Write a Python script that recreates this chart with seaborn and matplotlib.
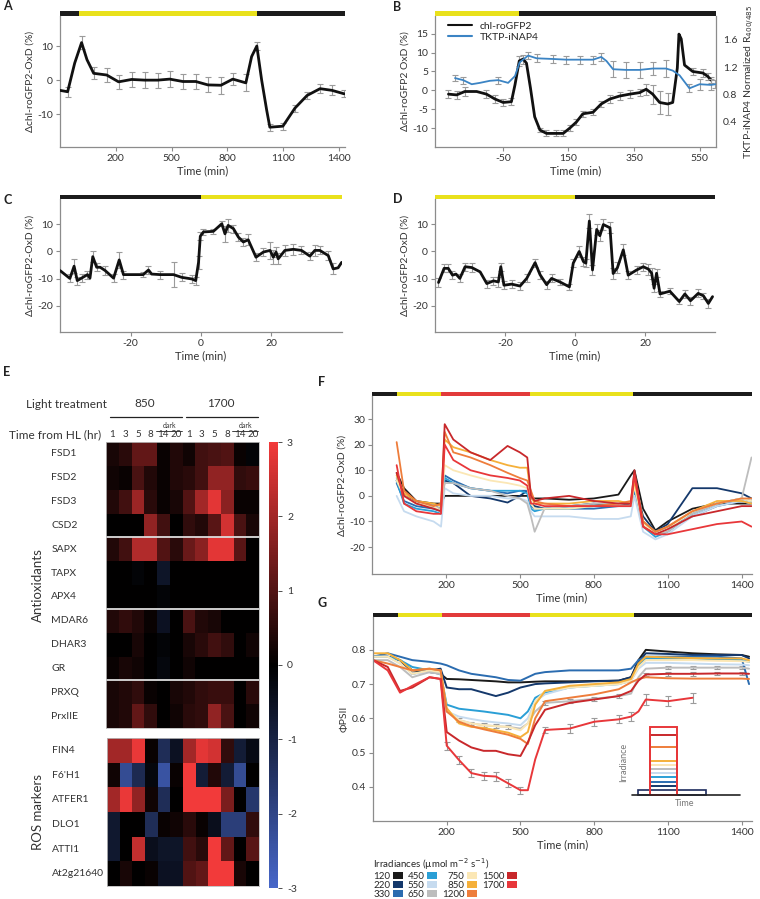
import numpy as np
import pandas as pd
import matplotlib.pyplot as plt
import matplotlib.transforms as mtransforms
from matplotlib.patches import Rectangle, Patch
from matplotlib.colors import LinearSegmentedColormap
import seaborn as sns

# ---------------- data ----------------
# A: 16 h light period (time from light on, min)
a_t = [-100, -59, -21, 16, 45, 81, 151, 215, 285, 355, 425, 490, 560, 630, 695, 765, 829, 899, 930, 958,
       984, 1011, 1028, 1098, 1163, 1228, 1298, 1362, 1427]
a_v = [-3, -3.4, 5, 11, 6, 2, 1.5, -0.5, 0.2, 0, 0, 0.3, -0.4, -0.4, -1.4, -1.5, 0.3, -0.8, 6.9, 10,
       0, -8.8, -13.8, -13.5, -8.2, -4.5, -2.5, -3, -4]
a_e = [0, 1.5, 0, 1.8, 0, 1.8, 2, 2, 2.3, 2.3, 2.2, 2.3, 2.2, 2.2, 2.2, 2.5, 1.8, 2.5, 0, 1.2,
       0, 0, 1, 1, 1, 1, 1.3, 1.5, 1]

# B: chl-roGFP2 (left axis) and TKTP-iNAP4 (right axis)
b_t = [-216, -191, -166, -130, -100, -74, -49, -24, -13, 0, 12, 22, 34, 47, 63, 83, 113, 134, 154, 174,
       194, 225, 250, 276, 306, 337, 367, 387, 407, 428, 453, 468, 482, 487, 494, 504, 529, 560, 575, 585]
b_v = [-1, -1.2, -0.3, -0.3, -1, -2.3, -3.2, -3, 1.5, 7.8, 8.3, 7.2, 0.7, -7, -10.5, -11.4, -11.4, -11.4, -10, -8.4,
       -6.2, -5.8, -3.6, -2.3, -1.5, -1, -0.6, 0.3, -1, -3.2, -3.6, -3.2, 5.9, 14.9, 13.6, 6.7, 5, 4.6, 3.7, 2.7]
b_e = [1, 1, 1.2, 0, 1, 1, 1, 1, 0, 1.3, 1.2, 0, 0, 0, 0.6, 0.8, 0.8, 0.8, 0.8, 0.8,
       0.8, 0.8, 0.8, 1, 1, 1, 1, 1.5, 2.5, 3, 3, 0, 0, 0, 0, 0, 1, 1, 1, 0.8]
inap_t = [-196, -171, -145, -120, -90, -64, -34, -13, 1, 27, 53, 103, 144, 184, 225, 250, 266, 286, 326,
          367, 407, 448, 468, 489, 519, 550, 585, 598]
inap_v = [1.04, 1.01, 0.95, 0.97, 1.0, 1.01, 0.97, 1.07, 1.27, 1.37, 1.33, 1.32, 1.31, 1.31, 1.31, 1.35, 1.29,
          1.17, 1.16, 1.16, 1.18, 1.18, 1.15, 1.08, 0.89, 0.95, 0.94, 0.95]
inap_e = [0.05, 0.05, 0, 0, 0, 0.05, 0, 0, 0, 0.05, 0.06, 0.06, 0.06, 0.06, 0.06, 0.06, 0, 0.12, 0.12,
          0.12, 0.1, 0.12, 0, 0, 0.06, 0.08, 0.08, 0.06]

# C: dark -> light transition
c_t = [-40.0, -37.2, -36.0, -35.1, -33.9, -32.2, -31.5, -30.7, -29.6, -28.6, -27.2, -24.8, -23.2, -22.0, -19.2,
       -16.4, -14.9, -14.0, -11.6, -7.8, -5.5, -2.6, -1.5, -0.7, -0.2, 0.7, 3.5, 5.9, 6.8, 7.7, 9.2, 10.6, 12.0,
       13.4, 15.6, 17.7, 19.6, 20.5, 21.3, 21.9, 23.8, 26.2, 28.5, 30.9, 32.3, 33.7, 36.1, 37.5, 38.9, 39.9]
c_v = [-7.0, -9.9, -5.4, -10.7, -9.8, -8.5, -9.8, -1.9, -5.8, -5.8, -7.0, -9.8, -3.1, -8.5, -8.5, -8.5, -6.8,
       -8.3, -8.5, -8.5, -9.5, -10.1, -10.7, -4.0, 5.6, 7.2, 7.4, 10.2, 6.5, 9.6, 8.4, 5.3, 3.5, 4.3, -2.1, -0.2,
       0.4, -2.1, -0.2, -2.7, 0.4, 0.8, 0.4, -1.7, 0.4, 0.4, -1.5, -6.4, -6.0, -4.0]
c_e = [0, 1.5, 2.5, 1.5, 1.5, 1.5, 0, 2, 1.5, 0, 1.5, 1.5, 3, 1.5, 0, 1, 1.5, 0, 1.5, 4.5,
       1.5, 1.5, 1.5, 2.5, 1.5, 1, 1, 1, 3, 2.5, 1.5, 1.5, 1.5, 2, 1.5, 1.5, 3, 2.5, 2, 2,
       2, 2, 1.5, 1.5, 2, 1.5, 1.5, 2, 0, 0]

# D: light -> dark transition
d_t = [-39.0, -37.4, -36.2, -35.0, -34.0, -32.9, -31.4, -29.5, -27.1, -25.2, -23.3, -21.9, -21.2, -20.3, -18.1,
       -15.7, -13.8, -11.4, -10.0, -8.1, -6.7, -4.3, -1.6, -0.5, 1.2, 2.4, 3.1, 4.1, 5.0, 6.2, 7.1, 8.1, 10.0,
       10.9, 12.1, 13.8, 15.2, 17.6, 19.5, 21.0, 21.9, 22.6, 23.3, 24.3, 27.1, 29.8, 31.4, 33.0, 35.2, 36.7,
       38.1, 39.3]
d_v = [-11.4, -6.2, -6.2, -8.7, -8.3, -9.9, -5.6, -5.9, -7.5, -11.8, -10.8, -11.2, -5.6, -12.4, -12.0, -12.7,
       -9.9, -4.1, -8.5, -12.2, -9.9, -11.2, -13.0, -4.3, 0.0, -3.7, -4.3, 11.2, -6.8, 8.1, 5.8, 9.9, 8.7, -8.1,
       -6.0, 0.6, -8.7, -6.8, -5.6, -6.5, -8.0, -13.5, -8.0, -15.6, -14.6, -18.4, -15.6, -18.1, -15.4, -16.3,
       -19.1, -16.6]
d_e = [1.5, 1.5, 1.5, 1.5, 0, 1.5, 1.5, 1.5, 0, 1.5, 1.5, 2, 1.5, 1.5, 1.5, 1.5, 1.5, 1.5, 1.5, 1.5,
       1.5, 1, 1, 1.5, 2, 1.5, 1.5, 2.5, 2, 2, 2, 2, 2, 2, 2, 2, 1.5, 1.5, 1.5, 2,
       2, 1.5, 1.5, 1, 1, 1, 1.5, 1.5, 1.5, 1, 1.5, 0]

# E: heatmap (log2 fold change)
antiox_genes = ['FSD1', 'FSD2', 'FSD3', 'CSD2', 'SAPX', 'TAPX', 'APX4', 'MDAR6', 'DHAR3', 'GR', 'PRXQ', 'PrxIIE']
ros_genes = ['FIN4', "F6'H1", 'ATFER1', 'DLO1', 'ATTI1', 'At2g21640']
hl_hours = ['1', '3', '5', '8', '14', '20']
treatments = ['850', '1700']
antiox_vals = [
    [0.3, 0.5, 1.2, 1.2, 0.1, 0.4, 0.2, 0.8, 0.9, 1.0, 0.1, -0.1],
    [0.2, 0.1, 0.9, 0.4, 0.1, 0.4, 0.5, 0.8, 1.8, 1.8, 0.6, 0.7],
    [0.4, 0.8, 1.9, 0.5, 0.1, 0.3, 1.0, 2.0, 2.8, 1.7, 0.1, 0.1],
    [0.0, 0.0, 0.0, 1.8, 0.8, 0.0, 0.6, 0.4, 1.1, 2.6, 0.9, 0.3],
    [0.4, 0.8, 2.2, 2.2, 1.0, 0.5, 1.3, 1.7, 2.8, 2.8, 1.1, 0.0],
    [0.0, 0.0, -0.1, 0.0, -0.6, 0.0, 0.0, 0.0, 0.0, 0.0, 0.0, 0.0],
    [0.0, 0.0, 0.0, 0.0, -0.1, 0.0, 0.0, 0.0, 0.0, 0.0, 0.0, 0.0],
    [0.4, 0.6, 0.4, 0.1, -0.5, 0.0, 0.9, 0.4, 0.3, 0.0, 0.0, 0.0],
    [0.0, 0.0, 0.3, 0.0, -0.1, 0.0, 0.3, 0.5, 0.8, 0.6, 0.0, 0.2],
    [0.1, 0.3, 0.2, 0.0, -0.2, 0.0, 0.2, 0.0, 0.0, 0.0, 0.0, 0.0],
    [0.3, 0.4, 0.6, 0.1, 0.0, 0.3, 0.4, 0.6, 0.7, 0.7, 0.0, 0.5],
    [0.3, 0.4, 1.2, 0.6, 0.0, 0.2, 0.5, 0.6, 1.8, 0.9, 0.0, 0.2],
]
ros_vals = [
    [2.0, 2.0, 2.9, 0.1, -1.3, -0.5, 2.0, 2.8, 2.6, 0.6, -0.8, -0.3],
    [0.2, -2.2, -1.2, -0.2, -2.4, 0.1, 3.0, -0.8, 0.4, -0.8, -2.2, 0.0],
    [2.0, 2.9, 1.8, 0.2, -1.3, 0.0, 3.0, 3.0, 3.0, 1.5, 0.0, -1.6],
    [-0.7, 0.0, 0.0, -1.3, 0.1, 0.2, 0.5, 0.1, -0.4, -1.8, -1.8, 0.6],
    [-0.7, 0.0, 2.4, -0.4, -0.6, -0.6, 0.8, 0.5, 3.0, 1.2, 0.0, 1.1],
    [0.0, 0.3, 0.0, 0.1, -0.5, -0.5, 1.0, 1.2, 3.0, 3.0, 0.3, 0.0],
]

# F/G: irradiance series
irradiances = ['120', '220', '330', '450', '550', '650', '750', '850', '1200', '1500', '1700']
irr_colors = ['#1a1a1a', '#14386b', '#2b6cb0', '#2a9fd6', '#c6dbef', '#bdbdbd',
              '#fbe7b5', '#f5b03a', '#ee7d3b', '#c8282b', '#e8373a']

f_t = [0, 30, 80, 150, 180, 195, 230, 300, 380, 450, 500, 530, 545, 560, 600, 700, 800, 900, 950, 965,
       1000, 1050, 1100, 1200, 1300, 1400, 1440]
f_vals = {
    '120':  [9, 3, -2, -3, -3, 0, 0, 0, 0, 0, 0, 0, -1, -1, -1, -1.5, -1, 0.5, 8, 10, -5, -13.5, -10, -5, -3, -3, -3],
    '220':  [6, 0, -2, -4, -5, 6, 5, 0, -1, -2.6, 0, 2, -3, -4, -5, -4, -3, -4, -3, 5, -8, -14, -11, 3, 3, 1, -1],
    '330':  [5, -2, -4, -5, -6, 8, 6, 3, 2, 1, 2, 2, -4, -5, -5, -5, -5, -4, -4, 2, -10, -14, -12, -8, -4, -2, -3],
    '450':  [6, -3, -5, -6, -7, 7, 5, 3, 2, 2, 2, 1, -5, -6, -5, -5, -4, -4, -4, 3, -12, -16, -14, -7, -3, -1, -2],
    '550':  [0, -6, -8, -10, -12, 3, 1, 0, 0, -1, -1, -2, -6, -8, -8, -8, -9, -9, -8, 0, -14, -17, -15, -8, -4, -2, -3],
    '650':  [7, 0, -3, -4, -5, 5, 5, 3, 2, 0, -1, -3, -8, -14, -5, -4, -3, -3, -3, 4, -12, -15, -14, -7, -3, -1, 15],
    '750':  [6, 0, -3, -4, -6, 12, 10, 8, 6, 5, 4, 3, -3, -5, -5, -5, -4, -4, -4, 4, -11, -15, -13, -6, -3, -1, -2],
    '850':  [8, 1, -2, -3, -4, 22, 19, 17, 14, 12, 11, 11, 0, -3, -3, -3, -2, -2, -3, 6, -10, -14, -12, -6, -2, -2, -3],
    '1200': [21, 2, -2, -4, -3, 25, 17, 15, 12, 9, 7, 6, 2, -2, -3, -4, -4, -3, -2, 9, -10, -14, -12, -6, -3, -1, -1],
    '1500': [9, 0, -3, -5, -6, 28, 22, 17, 14, 19.5, 17, 15, 0, -2, -1, 0, -2, -3, -3, 10, -12, -15, -13, -8, -6, -4, -4],
    '1700': [12, -3, -6, -7, -7, 20, 14, 10, 8, 7, 6, 4, -3, -3, -4, -4, -4, -4, -4, 8, -12, -15, -15, -13, -11, -10, -12],
}

g_t = [-100, -40, 10, 60, 130, 175, 200, 250, 300, 350, 400, 450, 500, 530, 560, 600, 700, 800, 900, 950,
       980, 1010, 1100, 1200, 1300, 1400, 1430]
nan = np.nan
g_vals = {
    '120':  [0.78, 0.78, 0.77, 0.74, 0.735, 0.73, 0.715, 0.714, 0.712, 0.71, 0.708, 0.705, 0.705, 0.706, 0.707,
             0.708, 0.708, 0.709, 0.71, 0.72, 0.77, 0.80, 0.795, 0.79, 0.787, 0.785, 0.78],
    '220':  [0.78, 0.78, 0.77, 0.73, 0.74, 0.745, 0.69, 0.685, 0.685, 0.675, 0.665, 0.675, 0.69, 0.695, 0.70,
             0.702, 0.705, 0.708, 0.71, 0.72, 0.765, 0.79, 0.788, 0.785, 0.785, 0.785, 0.775],
    '330':  [0.78, 0.79, 0.78, 0.77, 0.765, 0.76, 0.755, 0.74, 0.73, 0.725, 0.72, 0.712, 0.71, 0.72, 0.73,
             0.735, 0.74, 0.74, 0.74, 0.745, 0.77, 0.78, 0.78, 0.78, 0.78, 0.775, 0.70],
    '450':  [0.78, 0.78, 0.77, 0.75, 0.74, 0.73, 0.64, 0.628, 0.624, 0.62, 0.615, 0.61, 0.60, 0.62, 0.66,
             0.675, 0.69, 0.695, 0.70, 0.71, 0.755, 0.775, 0.775, 0.775, 0.772, 0.77, 0.765],
    '550':  [0.78, 0.78, 0.76, 0.73, 0.735, 0.73, 0.62, 0.605, 0.598, 0.592, 0.588, 0.585, 0.58, 0.60, 0.65,
             0.67, 0.69, 0.695, 0.70, 0.71, 0.745, 0.762, 0.762, 0.76, 0.758, 0.757, 0.755],
    '650':  [0.77, 0.77, 0.75, 0.72, 0.735, 0.73, 0.62, 0.595, 0.585, 0.58, 0.577, 0.575, 0.57, 0.585, 0.62,
             0.645, 0.65, 0.657, 0.665, 0.672, 0.72, 0.745, 0.748, 0.748, 0.748, 0.748, 0.745],
    '750':  [0.78, 0.78, 0.76, 0.73, 0.74, 0.735, 0.625, 0.595, 0.585, 0.58, 0.577, 0.575, 0.565, 0.585, 0.65,
             0.68, 0.69, 0.695, 0.70, 0.71, 0.75, 0.77, 0.77, 0.77, 0.768, 0.767, 0.765],
    '850':  [0.79, 0.79, 0.77, 0.74, 0.745, 0.74, 0.63, 0.585, 0.575, 0.572, 0.565, 0.558, 0.545, 0.56, 0.64,
             0.68, 0.695, 0.70, 0.705, 0.715, 0.76, 0.78, 0.778, 0.776, 0.775, 0.775, 0.77],
    '1200': [0.77, 0.76, 0.75, 0.74, 0.745, 0.74, 0.62, 0.59, 0.577, 0.568, 0.56, 0.552, 0.54, 0.525, 0.60,
             0.65, 0.66, 0.67, 0.685, 0.705, 0.715, 0.72, 0.717, 0.716, 0.716, 0.716, 0.715],
    '1500': [0.77, 0.75, 0.68, 0.69, 0.72, 0.715, 0.56, 0.535, 0.515, 0.505, 0.505, 0.495, 0.49, 0.53, 0.58,
             0.625, 0.645, 0.655, 0.665, 0.68, 0.71, 0.728, 0.73, 0.73, 0.731, 0.731, 0.73],
    '1700': [0.77, 0.74, 0.675, 0.695, 0.72, 0.715, 0.52, 0.478, 0.44, 0.432, 0.43, 0.41, 0.39, 0.39, 0.48,
             0.566, 0.57, 0.59, 0.597, 0.605, 0.62, 0.655, 0.65, 0.66, nan, nan, nan],
}
g_errs = {
    '1700': [0, 0, 0, 0, 0, 0, 0.012, 0.012, 0.012, 0.012, 0.012, 0.012, 0.01, 0, 0, 0.01, 0.012, 0.012,
             0.012, 0.012, 0, 0.015, 0.015, 0.015, 0, 0, 0],
    '650':  [0, 0, 0, 0, 0, 0, 0, 0.005, 0.005, 0.005, 0.005, 0.005, 0, 0, 0, 0.005, 0.005, 0.005, 0.005,
             0, 0, 0, 0.004, 0.004, 0.004, 0.004, 0],
    '1500': [0, 0, 0, 0, 0, 0, 0, 0, 0, 0, 0, 0, 0, 0, 0, 0, 0, 0, 0, 0, 0, 0.005, 0.005, 0.005, 0.005,
             0.005, 0],
}

# light regimes (edges in min, colour keys)
a_bar_t, a_bar_c = [-100, 0, 960, 1432], ['dark', 'light', 'dark']
b_bar_t, b_bar_c = [-257, 0, 600], ['light', 'dark']
c_bar_t, c_bar_c = [-40, 0, 40], ['dark', 'light']
d_bar_t, d_bar_c = [-40, 0, 40], ['light', 'dark']
fg_bar_t, fg_bar_c = [-100, 0, 180, 540, 960, 1442], ['dark', 'light', 'high', 'light', 'dark']
bar_colors = {'dark': '#1c1c1c', 'light': '#e9e11c', 'high': '#e23a3a'}

# ---------------- plotting ----------------
sns.set_style('ticks')
plt.rcParams['font.family'] = ['Lato', 'DejaVu Sans']
plt.rcParams['axes.unicode_minus'] = False

W, H = 760, 899
fig = plt.figure(figsize=(W / 100, H / 100), dpi=100)
GREY = '#8c8c8c'
TXT = '#333333'
TICK_FS = 7.5
XLAB_FS = 8
YLAB_FS = 7.5


def add_ax(x0, y0, x1, y1):
    return fig.add_axes([x0 / W, 1 - y1 / H, (x1 - x0) / W, (y1 - y0) / H])


def ftext(x, y, s, **kw):
    fig.text(x / W, 1 - y / H, s, **kw)


def light_bar(ax, edges, keys, px=4.5):
    h = px / (ax.get_position().height * H)
    trans = mtransforms.blended_transform_factory(ax.transData, ax.transAxes)
    for i, k in enumerate(keys):
        ax.add_patch(Rectangle((edges[i], 1.0), edges[i + 1] - edges[i], h, transform=trans,
                               color=bar_colors[k], lw=0, clip_on=False))


def style(ax, right=False):
    sns.despine(ax=ax, right=not right, left=right)
    for s in ['left', 'bottom', 'right']:
        ax.spines[s].set_color(GREY)
        ax.spines[s].set_linewidth(0.9)
    ax.tick_params(colors=GREY, labelcolor=TXT, labelsize=TICK_FS, length=3, width=0.8, pad=2)


def trace(ax, t, v, e, color='#111111', lw=2.0):
    t, v, e = np.array(t), np.array(v), np.array(e)
    m = e > 0
    ax.errorbar(t[m], v[m], yerr=e[m], fmt='none', ecolor='#9b9b9b', elinewidth=0.8,
                capsize=2, capthick=0.8, zorder=1)
    sns.lineplot(x=t, y=v, ax=ax, color=color, lw=lw, zorder=3)


# A
axA = add_ax(60, 16, 345, 147)
trace(axA, a_t, a_v, a_e)
axA.set_xlim(-100, 1432)
axA.set_ylim(-19.6, 18.8)
axA.set_xticks([200, 500, 800, 1100, 1400])
axA.set_yticks([-10, 0, 10])
style(axA)
light_bar(axA, a_bar_t, a_bar_c)
axA.set_xlabel('Time (min)', fontsize=XLAB_FS, color=TXT, labelpad=2)
axA.set_ylabel('Δchl-roGFP2-OxD (%)', fontsize=YLAB_FS, color=TXT, labelpad=2)

# B
axB = add_ax(435, 16, 716, 147)
trace(axB, b_t, b_v, b_e)
axB.set_xlim(-257, 600)
axB.set_ylim(-15, 19.7)
axB.set_xticks([-50, 150, 350, 550])
axB.set_yticks([-10, -5, 0, 5, 10, 15])
style(axB)
axB2 = axB.twinx()
trace(axB2, inap_t, inap_v, inap_e, color='#3b84c4', lw=1.3)
axB2.set_ylim(0.03, 1.95)
axB2.set_yticks([0.4, 0.8, 1.2, 1.6])
axB2.set_yticklabels(['0.4', '0.8', '1.2', '1.6'])
style(axB2, right=True)
axB2.spines['bottom'].set_visible(False)
light_bar(axB2, b_bar_t, b_bar_c)
axB.set_xlabel('Time (min)', fontsize=XLAB_FS, color=TXT, labelpad=2)
axB.set_ylabel('Δchl-roGFP2 OxD (%)', fontsize=YLAB_FS, color=TXT, labelpad=2)
axB2.set_ylabel('TKTP-iNAP4 Normalized R$_{400/485}$', fontsize=YLAB_FS, color=TXT, labelpad=4)
axB.legend(handles=[plt.Line2D([], [], color='#111111', lw=1.5), plt.Line2D([], [], color='#3b84c4', lw=1.5)],
           labels=['chl-roGFP2', 'TKTP-iNAP4'], loc='upper left', bbox_to_anchor=(0.03, 0.99),
           frameon=False, fontsize=7.5, handlelength=2.3, labelspacing=0.2, borderaxespad=0)

# C and D
for box, t, v, e, bt, bc in [((60, 199, 342, 332), c_t, c_v, c_e, c_bar_t, c_bar_c),
                             ((435, 199, 715, 332), d_t, d_v, d_e, d_bar_t, d_bar_c)]:
    ax = add_ax(*box)
    trace(ax, t, v, e)
    ax.set_xlim(-40, 40)
    ax.set_ylim(-29.6, 19.3)
    ax.set_xticks([-20, 0, 20])
    ax.set_yticks([-20, -10, 0, 10])
    style(ax)
    light_bar(ax, bt, bc)
    ax.set_xlabel('Time (min)', fontsize=XLAB_FS, color=TXT, labelpad=2)
    ax.set_ylabel('Δchl-roGFP2-OxD (%)', fontsize=YLAB_FS, color=TXT, labelpad=2)

# E heatmaps
cmap = LinearSegmentedColormap.from_list('bkr', ['#4767c9', '#000000', '#f23a3a'])
axE1 = add_ax(106, 442, 259, 728)
axE2 = add_ax(107, 738, 259, 886)
cax = add_ax(269, 442, 278, 888)
col_labels = [h for _ in treatments for h in hl_hours]
sns.heatmap(pd.DataFrame(antiox_vals, index=antiox_genes, columns=range(12)), ax=axE1, cmap=cmap,
            vmin=-3, vmax=3, cbar=True, cbar_ax=cax, xticklabels=False, yticklabels=antiox_genes)
sns.heatmap(pd.DataFrame(ros_vals, index=ros_genes, columns=range(12)), ax=axE2, cmap=cmap,
            vmin=-3, vmax=3, cbar=False, xticklabels=False, yticklabels=ros_genes)
for ax in (axE1, axE2):
    ax.set_yticklabels(ax.get_yticklabels(), rotation=0, ha='left', fontsize=7.5, color=TXT)
    ax.tick_params(axis='y', length=0, pad=39.5)
    ax.tick_params(axis='x', length=0)
    for sp in ax.spines.values():
        sp.set_visible(True)
        sp.set_color('#bbbbbb')
        sp.set_linewidth(0.6)
for r in [4, 7, 10]:
    axE1.axhline(r, color='#dddddd', lw=1.3)
cax.tick_params(labelsize=TICK_FS, colors=TXT, length=3, width=0.6)
cax.set_yticks([-3, -2, -1, 0, 1, 2, 3])
cax.set_yticklabels(['-3', '-2', '-1', '0', '1', '2', '3'])

# header of heatmap
for j, lab in enumerate(col_labels):
    axE1.text(j + 0.5, -0.3, lab, ha='center', va='center', fontsize=7, color=TXT, clip_on=False)
for g, name in enumerate(treatments):
    x0 = 6 * g
    axE1.plot([x0 + 0.3, x0 + 5.95], [-1.05, -1.05], color='#222222', lw=0.9, clip_on=False)
    axE1.text(x0 + 3.0, -1.6, name, ha='center', va='center', fontsize=8.5, color=TXT, clip_on=False)
    axE1.plot([x0 + 3.9, x0 + 5.95], [-0.47, -0.47], color='#222222', lw=0.6, clip_on=False)
    axE1.text(x0 + 4.95, -0.7, 'dark', ha='center', va='center', fontsize=5, color=TXT, clip_on=False)
ftext(66, 405, 'Light treatment', ha='center', va='center', fontsize=8.5, color=TXT)
ftext(101, 435, 'Time from HL (hr)', ha='right', va='center', fontsize=8.5, color=TXT)
ftext(38, 585, 'Antioxidants', ha='center', va='center', rotation=90, fontsize=9.5, color=TXT)
ftext(38, 812, 'ROS markers', ha='center', va='center', rotation=90, fontsize=9.5, color=TXT)

# F and G
pal = dict(zip(irradiances, irr_colors))
f_long = pd.DataFrame([(t, v, k) for k in irradiances for t, v in zip(f_t, f_vals[k])],
                      columns=['t', 'v', 'irr'])
g_long = pd.DataFrame([(t, v, k) for k in irradiances for t, v in zip(g_t, g_vals[k])],
                      columns=['t', 'v', 'irr']).dropna()

axF = add_ax(372, 396, 752, 574)
sns.lineplot(data=f_long, x='t', y='v', hue='irr', hue_order=irradiances, palette=pal,
             ax=axF, lw=1.3, legend=False, errorbar=None, estimator=None)
axF.set_xlim(-100, 1442)
axF.set_ylim(-30.5, 39)
axF.set_xticks([200, 500, 800, 1100, 1400])
axF.set_yticks([-20, -10, 0, 10, 20, 30])
style(axF)
light_bar(axF, fg_bar_t, fg_bar_c)
axF.set_xlabel('Time (min)', fontsize=XLAB_FS, color=TXT, labelpad=2)
axF.set_ylabel('Δchl-roGFP2-OxD (%)', fontsize=YLAB_FS, color=TXT, labelpad=2)

axG = add_ax(373, 617, 752, 821)
for k, e in g_errs.items():
    tt, vv, ee = np.array(g_t), np.array(g_vals[k]), np.array(e)
    m = ee > 0
    axG.errorbar(tt[m], vv[m], yerr=ee[m], fmt='none', ecolor='#9b9b9b', elinewidth=0.8,
                 capsize=2, capthick=0.8, zorder=1)
sns.lineplot(data=g_long, x='t', y='v', hue='irr', hue_order=irradiances, palette=pal,
             ax=axG, lw=1.4, legend=False, errorbar=None, estimator=None)
axG.set_xlim(-100, 1442)
axG.set_ylim(0.30, 0.896)
axG.set_xticks([200, 500, 800, 1100, 1400])
axG.set_yticks([0.4, 0.5, 0.6, 0.7, 0.8])
axG.set_yticklabels(['0.4', '0.5', '0.6', '0.7', '0.8'])
style(axG)
light_bar(axG, fg_bar_t, fg_bar_c)
axG.set_xlabel('Time (min)', fontsize=XLAB_FS, color=TXT, labelpad=2)
axG.set_ylabel('ΦPSII', fontsize=YLAB_FS, color=TXT, labelpad=2)

# schematic inset of the irradiance steps
axI = add_ax(630, 722, 742, 798)
axI.set_xlim(0, 112)
axI.set_ylim(-75, 1825)
axI.axis('off')
for k, c in zip(irradiances, irr_colors):
    if k == '120':
        axI.add_patch(Rectangle((8, 0), 68, int(k), fill=False, edgecolor='#1d2b5e', lw=1.2))
    else:
        axI.add_patch(Rectangle((20, 0), 27, int(k), fill=False, edgecolor=c, lw=1.4))
axI.plot([2, 110], [0, 0], color='#222222', lw=1.2)
ftext(624, 762, 'Irradiance', ha='center', va='center', rotation=90, fontsize=6.5, color='#777777')
ftext(685, 804, 'Time', ha='center', va='center', fontsize=6.5, color='#777777')

handles = [Patch(facecolor=c, edgecolor='none') for c in irr_colors]
leg = fig.legend(handles, irradiances, loc='upper left', bbox_to_anchor=(373 / W, 1 - 856 / H),
                 ncols=4, markerfirst=False, frameon=False, fontsize=7,
                 title='Irradiances (µmol m$^{-2}$ s$^{-1}$)', title_fontsize=7,
                 handlelength=1.0, handleheight=0.8, handletextpad=0.3, columnspacing=0.5,
                 labelspacing=0.0, borderpad=0, borderaxespad=0)
leg._legend_box.align = 'left'

# panel letters
for lab, x, y in [('A', 3, 6), ('B', 393, 7), ('C', 4, 200), ('D', 393, 199),
                  ('E', 3, 372), ('F', 318, 382), ('G', 317, 603)]:
    ftext(x, y, lab, ha='left', va='center', fontsize=9, fontweight='bold', color='#222222')

fig.savefig('out.png', dpi=100)
